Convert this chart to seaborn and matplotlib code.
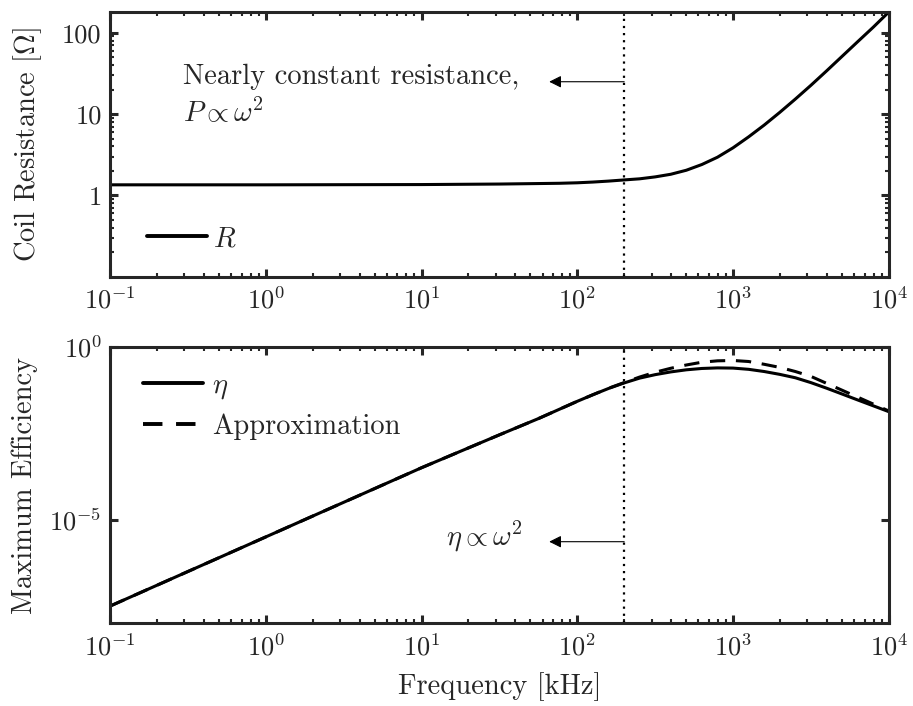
import numpy as np
import pandas as pd
import matplotlib
matplotlib.use("Agg")
import matplotlib.pyplot as plt
import matplotlib.ticker as mticker
import seaborn as sns

# ---- data (frequency in kHz) ----
freq_R = [0.1, 1.0, 10.0, 31.6, 76.7, 100.0, 125.9, 158.5, 199.5, 251.2, 316.2,
          398.1, 501.2, 631.0, 794.3, 1000.0, 1258.9, 1584.9, 1995.3, 2511.9,
          3162.3, 3981.1, 5011.9, 6309.6, 7943.3, 10000.0]
R_vals = [1.35, 1.35, 1.36, 1.38, 1.41, 1.43, 1.46, 1.50, 1.55, 1.60, 1.69,
          1.82, 2.04, 2.40, 2.95, 3.85, 5.25, 7.33, 10.5, 15.3,
          22.6, 33.9, 51.3, 77.6, 117.0, 180.0]

freq_eta = [0.1, 1.0, 10.0, 31.6, 56.2, 100.0, 125.9, 158.5, 199.5, 251.2,
            316.2, 398.1, 501.2, 631.0, 794.3, 1000.0, 1258.9, 1584.9, 1995.3,
            2511.9, 3162.3, 3981.1, 5011.9, 6309.6, 7943.3, 10000.0]
eta_vals = [3.16e-8, 3.16e-6, 3.16e-4, 2.82e-3, 8.3e-3, 0.0263, 0.0407, 0.0617,
            0.0891, 0.123, 0.155, 0.186, 0.214, 0.234, 0.243, 0.240, 0.221,
            0.191, 0.158, 0.126, 0.0912, 0.0631, 0.0427, 0.0288, 0.0195, 0.0132]
approx_vals = [3.16e-8, 3.16e-6, 3.16e-4, 2.82e-3, 8.3e-3, 0.0263, 0.0407, 0.0625,
               0.0912, 0.132, 0.182, 0.237, 0.295, 0.355, 0.389, 0.398, 0.372,
               0.309, 0.251, 0.191, 0.138, 0.0871, 0.055, 0.0347, 0.0219, 0.0138]

x_ticks = [0.1, 1, 10, 100, 1000, 10000]
R_ticks = [1, 10, 100]
R_tick_labels = ["1", "10", "100"]
eta_ticks = [1e-5, 1.0]
f_cut = 200.0

TXT = 20.5
TICK = 19

# ---- style ----
sns.set_style("ticks")
plt.rcParams.update({
    "font.family": ["cmr10", "DejaVu Serif"],
    "mathtext.fontset": "cm",
    "axes.formatter.use_mathtext": True,
    "font.size": TXT,
    "axes.linewidth": 2.2,
    "xtick.direction": "in",
    "ytick.direction": "in",
    "xtick.top": True,
    "ytick.right": True,
    "xtick.major.size": 6,
    "ytick.major.size": 6,
    "xtick.minor.size": 3,
    "ytick.minor.size": 3,
    "xtick.major.width": 2.2,
    "ytick.major.width": 2.2,
    "xtick.minor.width": 1.5,
    "ytick.minor.width": 1.5,
    "xtick.major.pad": 7,
    "ytick.major.pad": 6,
    "xtick.labelsize": TICK,
    "ytick.labelsize": TICK,
})

fig = plt.figure(figsize=(9.13, 7.06), dpi=100)
ax1 = fig.add_axes([0.1205, 0.608, 0.853, 0.375])
ax2 = fig.add_axes([0.1205, 0.117, 0.853, 0.392])

dfR = pd.DataFrame({"f": freq_R, "R": R_vals})
dfE = pd.DataFrame({"f": freq_eta, "eta": eta_vals, "approx": approx_vals})

# ---- top panel ----
sns.lineplot(data=dfR, x="f", y="R", ax=ax1, color="black", lw=2.2,
             label=r"$R$", legend=False)
ax1.axvline(f_cut, color="black", ls=(0, (1, 2.2)), lw=1.6)
ax1.set_xscale("log")
ax1.set_yscale("log")
ax1.set_xlim(0.1, 1e4)
ax1.set_ylim(0.1, 180)
ax1.set_xticks(x_ticks)
ax1.set_yticks(R_ticks)
ax1.set_yticklabels(R_tick_labels)
ax1.yaxis.set_minor_locator(mticker.LogLocator(base=10, subs=np.arange(2, 10)))
ax1.yaxis.set_minor_formatter(mticker.NullFormatter())
ax1.xaxis.set_minor_locator(mticker.LogLocator(base=10, subs=np.arange(2, 10)))
ax1.set_xlabel("")
ax1.set_ylabel(r"Coil Resistance [$\Omega$]", fontsize=TXT, labelpad=13)
ax1.text(0.295, 28.5, "Nearly constant resistance,", fontsize=TXT, va="center", ha="left")
ax1.text(0.295, 10.4, r"$P \propto \omega^2$", fontsize=TXT, va="center", ha="left")
ax1.annotate("", xy=(66, 25), xytext=(f_cut, 25),
             arrowprops=dict(arrowstyle="-|>", color="black", lw=0.8,
                             mutation_scale=18, shrinkA=0, shrinkB=0))
ax1.legend(loc="lower left", frameon=False, fontsize=TXT, handlelength=2.1,
           handletextpad=0.2, bbox_to_anchor=(0.015, -0.005))
for t in ax1.get_legend().get_lines():
    t.set_linewidth(2.8)

# ---- bottom panel ----
sns.lineplot(data=dfE, x="f", y="eta", ax=ax2, color="black", lw=2.2,
             label=r"$\eta$", legend=False)
sns.lineplot(data=dfE, x="f", y="approx", ax=ax2, color="black", lw=2.2,
             ls=(0, (5, 3.5)), label="Approximation", legend=False)
ax2.axvline(f_cut, color="black", ls=(0, (1, 2.2)), lw=1.6)
ax2.set_xscale("log")
ax2.set_yscale("log")
ax2.set_xlim(0.1, 1e4)
ax2.set_ylim(1e-8, 1)
ax2.set_xticks(x_ticks)
ax2.set_yticks(eta_ticks)
ax2.yaxis.set_minor_locator(mticker.NullLocator())
ax2.xaxis.set_minor_locator(mticker.LogLocator(base=10, subs=np.arange(2, 10)))
ax2.set_xlabel("Frequency [kHz]", fontsize=TXT, labelpad=9)
ax2.set_ylabel("Maximum Efficiency", fontsize=TXT, labelpad=8)
ax2.text(14.4, 3.2e-6, r"$\eta \propto \omega^2$", fontsize=TXT, va="center", ha="left")
ax2.annotate("", xy=(66, 2.3e-6), xytext=(f_cut, 2.3e-6),
             arrowprops=dict(arrowstyle="-|>", color="black", lw=0.8,
                             mutation_scale=18, shrinkA=0, shrinkB=0))
leg = ax2.legend(loc="upper left", frameon=False, fontsize=TXT, handlelength=2.1,
                 handletextpad=0.3, labelspacing=0.45, bbox_to_anchor=(0.01, 1.0))
for t in leg.get_lines():
    t.set_linewidth(2.8)

fig.savefig("out.png", dpi=100)
